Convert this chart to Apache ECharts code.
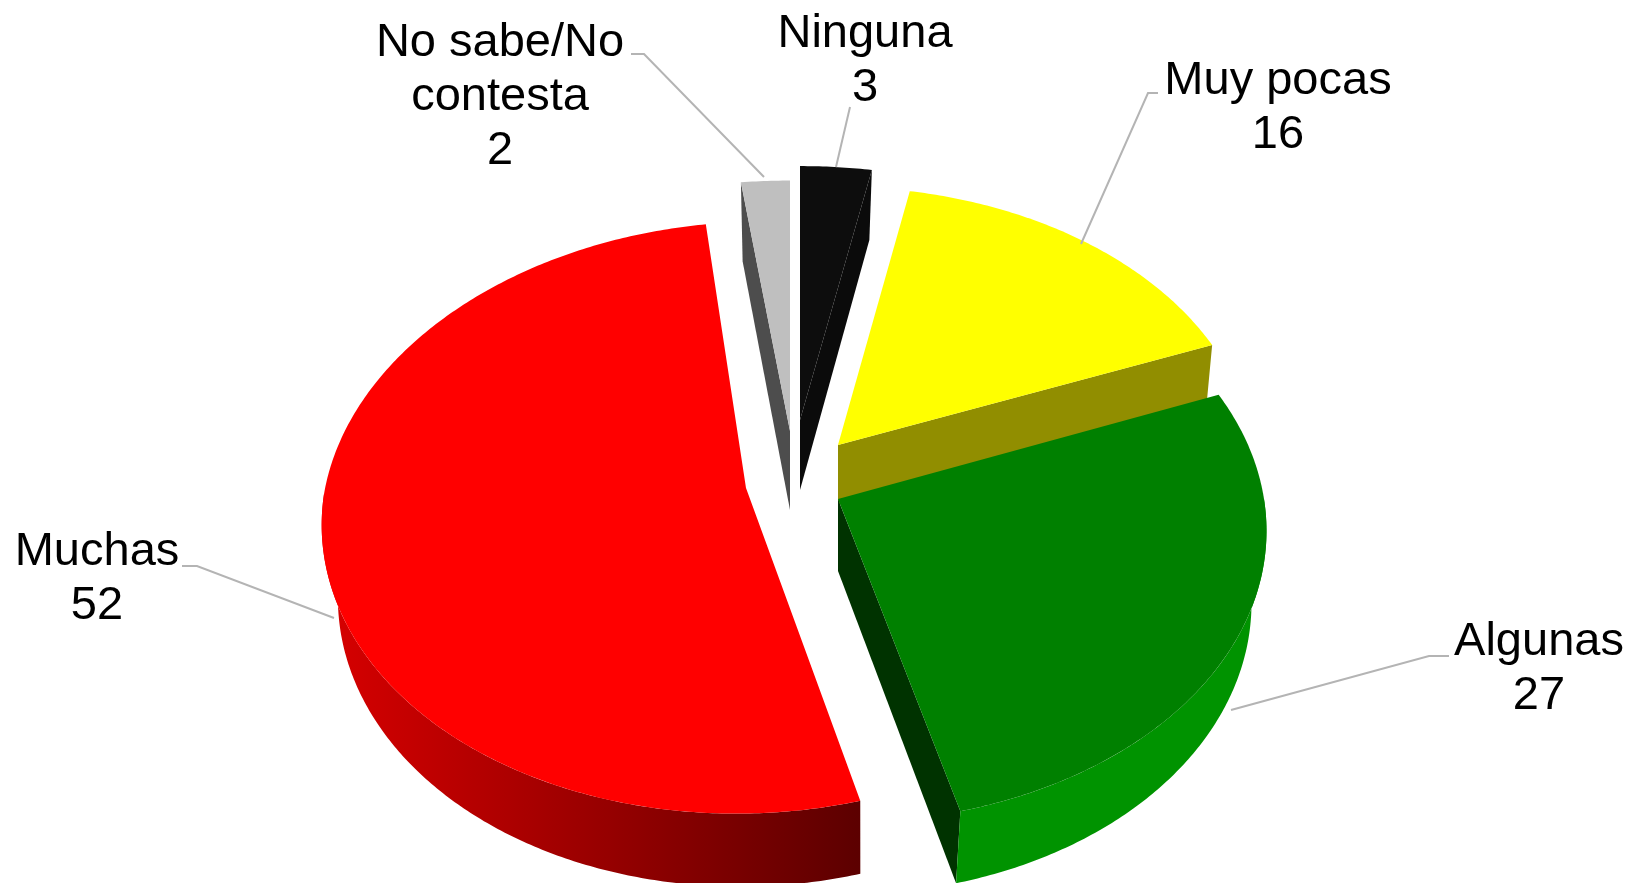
<!DOCTYPE html>
<html>
<head>
<meta charset="utf-8">
<style>html,body{margin:0;padding:0;background:#fff}#c{width:1629px;height:883px}</style>
<script src="https://cdn.jsdelivr.net/npm/echarts@6/dist/echarts.min.js"></script>
</head>
<body>
<div id="c"></div>
<script>
const categories = ['Ninguna', 'Muy pocas', 'Algunas', 'Muchas', 'No sabe/No\ncontesta'];
const values = [3, 16, 27, 52, 2];

// Look of each slice
const topColors = ['#0D0D0D', '#FFFF00', '#008000', '#FF0000', '#BFBFBF'];
const faceColors = ['#0B0B0B', '#918E00', '#003300', '#600000', '#4D4D4D'];
const rimColors = [['#000', '#000'], ['#918E00', '#918E00'], ['#009300', '#009300'], ['#D80000', '#5C0000'], ['#4D4D4D', '#4D4D4D']];

// Projection of each exploded slice: apex, radii, perspective, skew, thickness
const apexX = [800, 838, 838, 746, 790];
const apexY = [420, 445, 499, 488, 431];
const radiusX = [440, 415, 426, 422, 450];
const radiusY = [292, 280, 293, 293, 288];
const perspective = [0.15, 0.085, 0.094, 0.10, 0.15];
const skewBack = [0, 0, -6, 8, 0];
const skewFront = [0, 0, -6, 2, 0];
const skewY = [0, 0, 0, -6, 0];
const thickness = [70, 60, 72, 73, 79];
const bottomScale = [0.965, 0.985, 0.965, 0.97, 0.965];
const bottomShift = [0, 0, 0, 3.5, 0];

// Label placement (centre of text block) and leader-line paths
const labelX = [865, 1278, 1539, 97, 500];
const labelY = [61, 108, 669, 579, 97];
const leaders = [
  [[850, 107], [836, 167]],
  [[1158, 93], [1148, 93], [1081, 244]],
  [[1449, 656], [1429, 656], [1231, 710]],
  [[182, 566], [197, 566], [334, 618]],
  [[631, 54], [644, 54], [764, 177]]
];

const total = values.reduce((a, b) => a + b, 0);
const starts = values.map((_, i) => values.slice(0, i).reduce((a, b) => a + b, 0) / total * 2 * Math.PI);

function project(i, t, low) {
  const u = Math.sin(t), v = Math.cos(t), s = 1 / (1 + perspective[i] * v);
  let x = radiusX[i] * u * s + (v > 0 ? skewBack[i] : skewFront[i]) * v;
  let y = -radiusY[i] * v * s + skewY[i] * u;
  if (low) { x = x * bottomScale[i] + bottomShift[i]; y += thickness[i]; }
  return [apexX[i] + x, apexY[i] + y];
}
function arc(i, a, b, low) {
  const n = Math.max(2, Math.ceil(Math.abs(b - a) / 0.01)), out = [];
  for (let k = 0; k <= n; k++) out.push(project(i, a + (b - a) * k / n, low));
  return out;
}
function bottomApex(i) { return [apexX[i], apexY[i] + thickness[i]]; }

function renderSlice(params, api) {
  const i = params.dataIndex;
  const a = starts[i], b = a + values[i] / total * 2 * Math.PI;
  const kids = [];
  const apex = [apexX[i], apexY[i]];
  // radial faces turned to the viewer
  if (Math.sin(a) < 0) kids.push({ type: 'polygon', shape: { points: [apex, project(i, a), project(i, a, true), bottomApex(i)] }, style: { fill: faceColors[i] } });
  if (Math.sin(b) > 0) kids.push({ type: 'polygon', shape: { points: [apex, project(i, b), project(i, b, true), bottomApex(i)] }, style: { fill: faceColors[i] } });
  // outer rim: front half only
  const r0 = Math.max(a, Math.PI / 2), r1 = Math.min(b, 1.5 * Math.PI);
  if (r1 > r0) {
    const pts = arc(i, r0, r1, false).concat(arc(i, r1, r0, true));
    kids.push({
      type: 'polygon', shape: { points: pts },
      style: { fill: { type: 'linear', x: 0, y: 0, x2: 1, y2: 0, colorStops: [{ offset: 0, color: rimColors[i][0] }, { offset: 1, color: rimColors[i][1] }] } }
    });
  }
  // top face
  kids.push({ type: 'polygon', shape: { points: [apex].concat(arc(i, a, b, false)) }, style: { fill: topColors[i] } });
  // leader and label
  kids.push({ type: 'polyline', shape: { points: leaders[i] }, style: { stroke: '#B4B4B4', lineWidth: 2, fill: null } });
  kids.push({
    type: 'text',
    style: {
      text: categories[i] + '\n' + values[i], x: labelX[i], y: labelY[i], align: 'center', verticalAlign: 'middle',
      font: '47px "Liberation Sans", Arial, sans-serif', lineHeight: 54, fill: '#000'
    }
  });
  return { type: 'group', children: kids };
}

const chart = echarts.init(document.getElementById('c'), null, { renderer: 'canvas' });
chart.setOption({
  animation: false,
  backgroundColor: '#fff',
  series: [{
    type: 'custom',
    coordinateSystem: 'none',
    renderItem: renderSlice,
    clip: false,
    data: categories.map((c, i) => ({ name: c, value: values[i] }))
  }]
});
</script>
</body>
</html>
